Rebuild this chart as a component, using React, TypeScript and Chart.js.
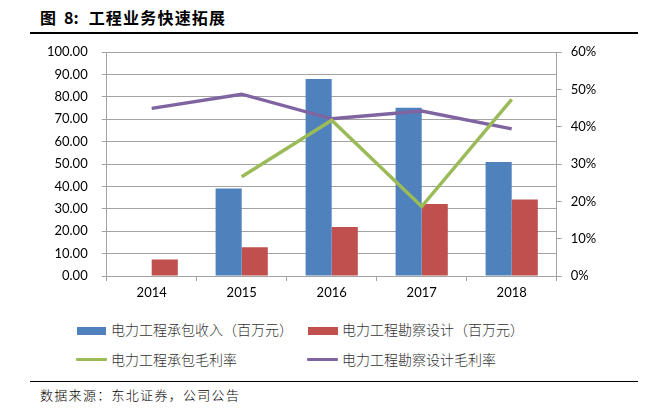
import React, { useEffect, useRef } from "react";
import { Chart, registerables } from "chart.js";

Chart.register(...registerables);

const categories = ["2014", "2015", "2016", "2017", "2018"];
const contractRevenue = [null, 39.1, 87.9, 75.1, 50.9];
const surveyRevenue = [7.4, 12.8, 21.9, 32.1, 34.2];
const contractMargin = [null, 0.266, 0.417, 0.186, 0.473];
const surveyMargin = [0.449, 0.487, 0.421, 0.442, 0.394];
const leftTicksMax = 100;
const rightTicksMax = 0.6;

const seriesNames = [
  "电力工程承包收入（百万元）",
  "电力工程勘察设计（百万元）",
  "电力工程承包毛利率",
  "电力工程勘察设计毛利率",
];
const titleText = "工程业务快速拓展";
const sourceText = "数据来源：东北证券，公司公告";

const BLUE = "#4F81BD";
const RED = "#C0504D";
const GREEN = "#9BBB59";
const PURPLE = "#8064A2";
const GRID = "#a3a3a3";
const TICK_FONT = { family: "Lato, 'Liberation Sans', sans-serif", size: 13 };
const CJK = "'Noto Sans CJK SC', sans-serif";

export default function App() {
  const ref = useRef<HTMLCanvasElement | null>(null);

  useEffect(() => {
    if (!ref.current) return;
    const chart = new Chart(ref.current, {
      type: "bar",
      data: {
        labels: categories,
        datasets: [
          {
            type: "line",
            label: seriesNames[2],
            data: contractMargin,
            yAxisID: "y1",
            borderColor: GREEN,
            backgroundColor: GREEN,
            borderWidth: 3.5,
            pointRadius: 0,
            tension: 0,
            order: 0,
          } as any,
          {
            type: "line",
            label: seriesNames[3],
            data: surveyMargin,
            yAxisID: "y1",
            borderColor: PURPLE,
            backgroundColor: PURPLE,
            borderWidth: 3.5,
            pointRadius: 0,
            tension: 0,
            order: 0,
          } as any,
          {
            type: "bar",
            label: seriesNames[0],
            data: contractRevenue,
            yAxisID: "y",
            backgroundColor: BLUE,
            categoryPercentage: 0.58,
            barPercentage: 1,
            order: 1,
          } as any,
          {
            type: "bar",
            label: seriesNames[1],
            data: surveyRevenue,
            yAxisID: "y",
            backgroundColor: RED,
            categoryPercentage: 0.58,
            barPercentage: 1,
            order: 1,
          } as any,
        ],
      },
      options: {
        responsive: false,
        animation: false,
        devicePixelRatio: 1,
        layout: { padding: { top: 52, left: 0, right: 0, bottom: 0 } },
        plugins: { legend: { display: false }, tooltip: { enabled: false } },
        scales: {
          x: {
            type: "category",
            offset: true,
            grid: {
              offset: true,
              drawOnChartArea: false,
              drawTicks: true,
              tickLength: 5,
              color: GRID,
            },
            border: { color: GRID },
            ticks: { color: "#000", font: TICK_FONT, padding: 4 },
            afterFit: (s: any) => {
              s.height = 34;
            },
          },
          y: {
            position: "left",
            min: 0,
            max: leftTicksMax,
            grid: { color: GRID, tickLength: 5 },
            border: { color: GRID },
            ticks: {
              stepSize: 10,
              color: "#000",
              font: TICK_FONT,
              padding: 14,
              callback: (v: any) => Number(v).toFixed(2),
            },
            afterFit: (s: any) => {
              s.width = 106.7;
            },
          },
          y1: {
            position: "right",
            min: 0,
            max: rightTicksMax,
            grid: { drawOnChartArea: false, color: GRID, tickLength: 5 },
            border: { color: GRID },
            ticks: {
              stepSize: 0.1,
              color: "#000",
              font: TICK_FONT,
              padding: 9,
              callback: (v: any) => Math.round(Number(v) * 100) + "%",
            },
            afterFit: (s: any) => {
              s.width = 110.3;
            },
          },
        },
      },
    });
    return () => chart.destroy();
  }, []);

  const legendText: React.CSSProperties = {
    position: "absolute",
    fontFamily: CJK,
    fontSize: 14,
    fontWeight: 300,
    color: "#333",
    lineHeight: "16px",
    whiteSpace: "nowrap",
  };

  return (
    <div
      style={{
        position: "fixed",
        left: 0,
        top: 0,
        width: 667,
        height: 418,
        background: "#fff",
        overflow: "hidden",
      }}
    >
      <div
        style={{
          position: "absolute",
          left: 40,
          top: 7,
          fontFamily: CJK,
          fontWeight: 700,
          fontSize: 16,
          lineHeight: "20px",
          color: "#000",
          whiteSpace: "nowrap",
        }}
      >
        <span>图</span>
        <span style={{ marginLeft: 8 }}>8:</span>
        <span style={{ marginLeft: 10, letterSpacing: 1.2 }}>{titleText}</span>
      </div>
      <div
        style={{
          position: "absolute",
          left: 30,
          top: 32,
          width: 608,
          height: 1.5,
          background: "#000",
        }}
      />
      <canvas
        ref={ref}
        width={667}
        height={310}
        style={{ position: "absolute", left: 0, top: 0, width: 667, height: 310 }}
      />
      {/* legend row 1 */}
      <div style={{ position: "absolute", left: 77, top: 327, width: 29, height: 8, background: BLUE }} />
      <div style={{ ...legendText, left: 111, top: 321 }}>{seriesNames[0]}</div>
      <div style={{ position: "absolute", left: 308, top: 327, width: 30, height: 8, background: RED }} />
      <div style={{ ...legendText, left: 342, top: 321 }}>{seriesNames[1]}</div>
      {/* legend row 2 */}
      <div style={{ position: "absolute", left: 76, top: 358, width: 31, height: 3, background: GREEN, borderRadius: 1 }} />
      <div style={{ ...legendText, left: 111, top: 351 }}>{seriesNames[2]}</div>
      <div style={{ position: "absolute", left: 307, top: 358, width: 31, height: 3, background: PURPLE, borderRadius: 1 }} />
      <div style={{ ...legendText, left: 342, top: 351 }}>{seriesNames[3]}</div>
      <div
        style={{
          position: "absolute",
          left: 30,
          top: 381,
          width: 608,
          height: 1,
          background: "#000",
        }}
      />
      <div
        style={{
          position: "absolute",
          left: 40,
          top: 387,
          fontFamily: CJK,
          fontSize: 13,
          fontWeight: 300,
          letterSpacing: 1.3,
          lineHeight: "16px",
          color: "#000",
          whiteSpace: "nowrap",
        }}
      >
        {sourceText}
      </div>
    </div>
  );
}
